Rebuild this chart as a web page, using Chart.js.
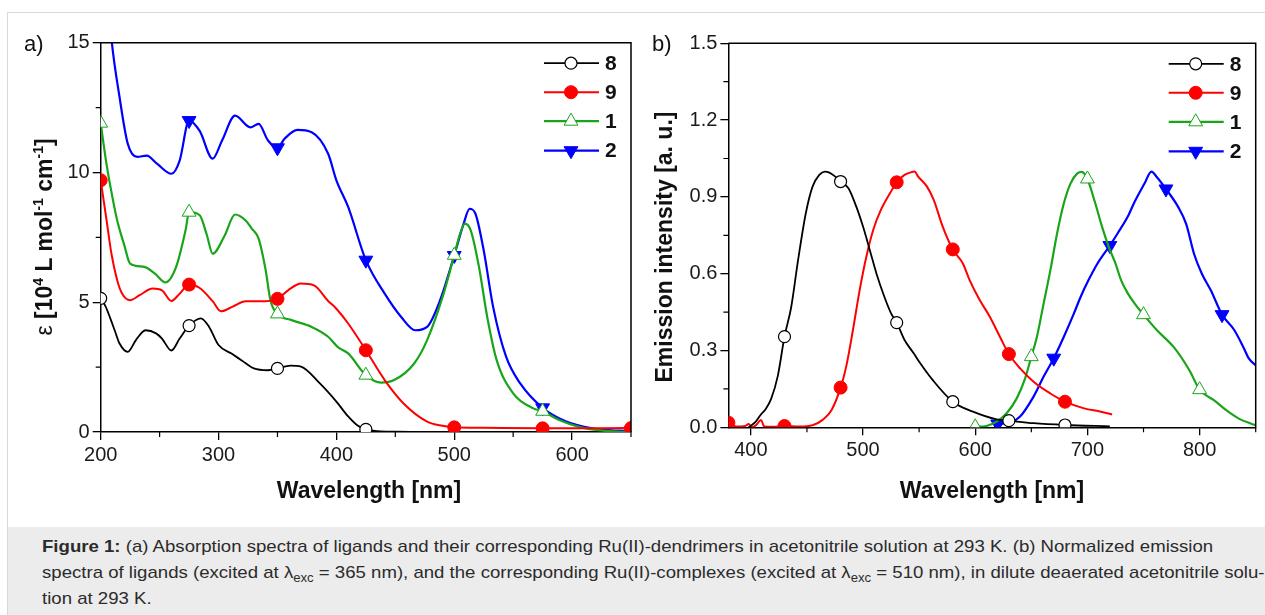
<!DOCTYPE html>
<html>
<head>
<meta charset="utf-8">
<script src="https://cdn.jsdelivr.net/npm/chart.js@4.4.0/dist/chart.umd.min.js"></script>
<style>
  body { margin: 0; background: #fff; font-family: "Liberation Sans", Arial, sans-serif; }
  #page { position: relative; width: 1265px; height: 615px; overflow: hidden; }
  #frame { position: absolute; left: 7px; top: 12px; width: 1270px; height: 620px; border: 1px solid #d9d9d9; }
  #caption { position: absolute; left: 8px; top: 527px; width: 1265px; height: 90px; background: #ececec; }
  #capText { position: absolute; left: 42px; top: 534px; font-size: 17px; line-height: 26px; color: #2b2b2b; white-space: nowrap; transform: scaleX(1.094); transform-origin: 0 0; }
  #capText sub { font-size: 12px; line-height: 0; }
  canvas { position: absolute; top: 0; }
  .panel { position: absolute; font-size: 22px; color: #111; transform: translate(0, -50%); }
  .xtitle { position: absolute; font-weight: bold; font-size: 23px; color: #111; white-space: nowrap; transform: translate(-50%, -50%); }
  .ytitle { position: absolute; font-weight: bold; font-size: 23px; color: #111; white-space: nowrap; transform: translate(-50%, -50%) rotate(-90deg); }
  .ytitle sup { font-size: 14px; line-height: 0; }
</style>
</head>
<body>
<div id="page">
  <div id="frame"></div>
  <canvas id="absChart" width="640" height="520" style="left:0"></canvas>
  <canvas id="emiChart" width="625" height="520" style="left:640px"></canvas>

  <div class="panel" style="left:24px; top:44px">a)</div>
  <div class="panel" style="left:652px; top:44px">b)</div>
  <div class="xtitle" style="left:369px; top:490px">Wavelength [nm]</div>
  <div class="xtitle" style="left:992px; top:490px">Wavelength [nm]</div>
  <div class="ytitle" style="left:44px; top:237px"><span style="font-weight:normal">ε</span> [10<sup>4</sup> L mol<sup>-1</sup> cm<sup>-1</sup>]</div>
  <div class="ytitle" style="left:664px; top:247px">Emission intensity [a. u.]</div>

  <div id="caption"></div>
  <div id="capText"><b>Figure 1:</b> (a) Absorption spectra of ligands and their corresponding Ru(II)-dendrimers in acetonitrile solution at 293 K. (b) Normalized emission<br>spectra of ligands (excited at λ<sub>exc</sub> = 365 nm), and the corresponding Ru(II)-complexes (excited at λ<sub>exc</sub> = 510 nm), in dilute deaerated acetonitrile solu-<br>tion at 293 K.</div>
</div>

<script>
// ---- (a) absorption, epsilon in 10^4 L mol-1 cm-1 ----
const absWl8 = [200, 204, 208, 212, 216, 223, 230, 238, 247, 252, 260, 267, 275, 285, 292, 300, 311, 320, 330, 342, 350, 361, 370, 386, 400, 410, 418, 425, 435, 450, 470];
const absEps8 = [5.15, 4.85, 4.4, 3.9, 3.41, 3.09, 3.55, 3.92, 3.8, 3.6, 3.14, 3.6, 4.1, 4.38, 4.05, 3.35, 3.02, 2.75, 2.45, 2.38, 2.45, 2.56, 2.52, 1.87, 1.17, 0.6, 0.25, 0.1, 0.03, 0.01, 0];

const absWl9 = [200, 205, 209, 214, 218, 225, 233, 244, 252, 260, 267, 275, 284, 295, 302, 312, 323, 340, 350, 359, 370, 381, 393, 400, 410, 425, 441, 457, 477, 490, 500, 525, 575, 650];
const absEps9 = [9.7, 8.15, 6.9, 5.85, 5.35, 5.08, 5.27, 5.53, 5.46, 5.05, 5.33, 5.68, 5.55, 5.04, 4.65, 4.83, 5.04, 5.04, 5.13, 5.46, 5.72, 5.65, 5.05, 4.75, 4.18, 3.15, 2.0, 1.1, 0.4, 0.24, 0.18, 0.16, 0.14, 0.15];

const absWl1 = [200, 205, 211, 214, 220, 225, 237, 246, 255, 264, 272, 275, 284, 290, 295, 305, 314, 323, 328, 334, 340, 344, 350, 362, 379, 393, 401, 410, 425, 438, 449, 466, 477, 491, 500, 505, 509, 514, 521, 528, 536, 550, 567, 575, 589, 606, 626, 645, 650];
const absEps1 = [11.9, 10.3, 8.8, 8.15, 7.2, 6.49, 6.36, 6.1, 5.76, 6.36, 7.77, 8.47, 8.35, 7.6, 6.87, 7.55, 8.38, 8.15, 7.85, 7.45, 6.23, 5.08, 4.55, 4.31, 4.05, 3.67, 3.28, 3.03, 2.19, 1.9, 2.0, 2.64, 3.54, 5.33, 6.81, 7.64, 8.03, 7.77, 6.36, 4.43, 2.77, 1.49, 0.91, 0.8, 0.46, 0.2, 0.05, 0.01, 0];

const absWl2 = [205, 209, 216, 223, 231, 239, 248, 260, 267, 275, 284, 295, 303, 314, 327, 334, 342, 350, 356, 367, 379, 393, 400, 410, 425, 441, 455, 467, 477, 488, 500, 508, 513, 518, 525, 533, 544, 556, 575, 595, 617, 640, 650];
const absEps2 = [17.5, 15.2, 12.9, 11.1, 10.6, 10.65, 10.33, 9.95, 10.46, 12.0, 11.6, 10.53, 11.23, 12.19, 11.74, 11.87, 11.23, 10.95, 11.3, 11.64, 11.55, 10.72, 9.7, 8.67, 6.62, 5.33, 4.43, 3.92, 4.05, 5.08, 6.8, 8.03, 8.6, 8.41, 7.0, 4.82, 2.9, 1.87, 0.93, 0.4, 0.14, 0.05, 0.04];

const absMarks8 = [200, 275, 350, 425];
const absMarks9 = [200, 275, 350, 425, 500, 575, 650];
const absMarks1 = [200, 275, 350, 425, 500, 575];
const absMarks2 = [275, 350, 425, 500, 575, 650];

const absXTicks = [200, 300, 400, 500, 600];
const absXMinor = [250, 350, 450, 550, 650];
const absYTicks = [0, 5, 10, 15];
const absYMinor = [2.5, 7.5, 12.5];

// ---- (b) normalized emission ----
const emiWl8 = [398, 404, 409, 413, 418, 424, 430, 436, 442, 449, 455, 461, 466, 470, 475, 480, 487, 494, 500, 506, 512, 519, 525, 530, 537, 545, 551, 562, 580, 598, 619, 630, 652, 680, 720];
const emiInt8 = [0, 0.02, 0.05, 0.07, 0.11, 0.2, 0.354, 0.47, 0.65, 0.836, 0.94, 0.986, 0.999, 0.995, 0.98, 0.96, 0.934, 0.862, 0.784, 0.693, 0.6, 0.51, 0.445, 0.409, 0.341, 0.29, 0.25, 0.185, 0.1, 0.061, 0.031, 0.026, 0.016, 0.009, 0.004];

const emiWl9 = [380, 387, 395, 398, 401, 405, 409, 412, 420, 430, 443, 455, 464, 472, 480, 485, 491, 497, 503, 509, 516, 524, 530, 537, 542, 546, 549, 557, 563, 571, 580, 589, 595, 604, 613, 622, 630, 640, 652, 667, 680, 697, 712, 722];
const emiInt9 = [0.018, 0.003, 0.005, 0.013, 0.0, 0.01, 0.029, 0.003, 0.002, 0.005, 0.003, 0.008, 0.029, 0.068, 0.155, 0.237, 0.38, 0.536, 0.667, 0.77, 0.85, 0.914, 0.957, 0.986, 0.995, 0.999, 0.98, 0.94, 0.888, 0.784, 0.695, 0.64, 0.575, 0.497, 0.432, 0.354, 0.286, 0.23, 0.178, 0.132, 0.1, 0.074, 0.061, 0.05];

const emiWl1 = [600, 610, 619, 628, 637, 644, 650, 655, 661, 667, 673, 679, 685, 691, 695, 700, 707, 713, 719, 725, 730, 736, 742, 750, 762, 777, 791, 800, 813, 824, 835, 846, 850];
const emiInt1 = [0.002, 0.005, 0.022, 0.055, 0.113, 0.185, 0.276, 0.354, 0.484, 0.614, 0.758, 0.875, 0.953, 0.992, 0.998, 0.97, 0.875, 0.784, 0.705, 0.64, 0.575, 0.523, 0.484, 0.44, 0.379, 0.313, 0.222, 0.147, 0.105, 0.066, 0.034, 0.014, 0.008];

const emiWl2 = [620, 631, 640, 652, 661, 670, 679, 688, 694, 701, 709, 720, 727, 736, 742, 751, 757, 762, 770, 781, 788, 795, 802, 810, 820, 831, 839, 844, 850];
const emiInt2 = [0.013, 0.018, 0.042, 0.12, 0.198, 0.27, 0.354, 0.445, 0.51, 0.575, 0.64, 0.71, 0.758, 0.823, 0.88, 0.953, 0.999, 0.977, 0.931, 0.86, 0.795, 0.678, 0.6, 0.535, 0.44, 0.379, 0.313, 0.268, 0.242];

const emiMarks8 = [430, 480, 530, 580, 630, 680];
const emiMarks9 = [380, 430, 480, 530, 580, 630, 680];
const emiMarks1 = [600, 650, 700, 750, 800];
const emiMarks2 = [620, 670, 720, 770, 820];

const emiXTicks = [400, 500, 600, 700, 800];
const emiXMinor = [450, 550, 650, 750, 850];
const emiYTicks = [0, 0.3, 0.6, 0.9, 1.2, 1.5];
const emiYMinor = [0.15, 0.45, 0.75, 1.05, 1.35];

/* ============================
   STYLES
============================ */
const FONT = '"Liberation Sans", Arial, sans-serif';

const styles = {
  "8": { color: "#000000", width: 1.8, shape: "circle", rot: 0, fill: "#ffffff", r: 6, pbw: 1.2 },
  "9": { color: "#ff0000", width: 2, shape: "circle", rot: 0, fill: "#ff0000", r: 6.5, pbw: 1 },
  "1": { color: "#19a519", width: 2.2, shape: "triangle", rot: 0, fill: "#ffffff", r: 8, pbw: 1 },
  "2": { color: "#0000ff", width: 2.2, shape: "triangle", rot: 180, fill: "#0000ff", r: 8, pbw: 1 },
};

function makeSet(name, xs, ys, marks) {
  const st = styles[name];
  return {
    label: name,
    data: xs.map((x, i) => ({ x: x, y: ys[i] })),
    borderColor: st.color,
    borderWidth: st.width,
    pointStyle: st.shape,
    pointRotation: st.rot,
    pointBackgroundColor: st.fill,
    pointBorderColor: st.color,
    pointBorderWidth: st.pbw,
    pointRadius: (ctx) => (ctx.raw && marks.includes(ctx.raw.x) ? st.r : 0),
    cubicInterpolationMode: "monotone",
    fill: false,
    clip: 0,
  };
}

// frame (top/right), minor ticks and in-plot legend
const framePlugin = {
  id: "frame",
  afterDraw(chart, args, opts) {
    const { ctx, chartArea: a, scales } = chart;
    ctx.save();
    ctx.strokeStyle = "#000";
    ctx.lineWidth = 1.5;
    ctx.beginPath();
    ctx.moveTo(a.left, a.top);
    ctx.lineTo(a.right, a.top);
    ctx.lineTo(a.right, a.bottom);
    ctx.stroke();

    ctx.lineWidth = 1.2;
    ctx.beginPath();
    opts.minorX.forEach((v) => {
      const px = scales.x.getPixelForValue(v);
      ctx.moveTo(px, a.bottom);
      ctx.lineTo(px, a.bottom + 5);
    });
    opts.minorY.forEach((v) => {
      const py = scales.y.getPixelForValue(v);
      ctx.moveTo(a.left, py);
      ctx.lineTo(a.left - 5, py);
    });
    ctx.stroke();

    // legend
    const rows = [20.5, 49.5, 78.5, 108];
    chart.data.datasets.forEach((ds, i) => {
      const st = styles[ds.label];
      const y = a.top + rows[i];
      const x0 = a.right - 87, x1 = a.right - 32, xm = a.right - 60;
      ctx.strokeStyle = st.color;
      ctx.lineWidth = st.width;
      ctx.beginPath();
      ctx.moveTo(x0, y);
      ctx.lineTo(x1, y);
      ctx.stroke();
      ctx.fillStyle = st.fill;
      ctx.lineWidth = st.pbw;
      Chart.helpers.drawPoint(ctx, { pointStyle: st.shape, rotation: st.rot, radius: st.r, borderWidth: st.pbw }, xm, y);
      ctx.fillStyle = "#111";
      ctx.font = "bold 21px " + FONT;
      ctx.textBaseline = "middle";
      ctx.textAlign = "left";
      ctx.fillText(ds.label, a.right - 26, y + 1);
    });
    ctx.restore();
  },
};

function axisOpts(min, max, ticks, fmt, fitFn) {
  return {
    type: "linear",
    min: min,
    max: max,
    afterBuildTicks: (s) => { s.ticks = ticks.map((v) => ({ value: v })); },
    afterFit: fitFn,
    ticks: {
      font: { family: FONT, size: 20 },
      color: "#1a1a1a",
      padding: 3,
      maxRotation: 0,
      autoSkip: false,
      callback: fmt,
    },
    grid: { drawOnChartArea: false, drawTicks: true, tickLength: 8, color: "#000", lineWidth: 1.3 },
    border: { color: "#000", width: 1.5 },
  };
}

function buildChart(id, sets, cfg) {
  return new Chart(document.getElementById(id), {
    type: "line",
    data: { datasets: sets },
    options: {
      responsive: false,
      animation: false,
      events: [],
      layout: { padding: { top: cfg.top, right: cfg.right, left: 0, bottom: 0 } },
      scales: {
        x: axisOpts(cfg.xmin, cfg.xmax, cfg.xTicks, (v) => String(v), (s) => { s.height = cfg.xh; }),
        y: axisOpts(cfg.ymin, cfg.ymax, cfg.yTicks, cfg.yFmt, (s) => { s.width = cfg.yw; }),
      },
      plugins: {
        legend: { display: false },
        tooltip: { enabled: false },
        frame: { minorX: cfg.xMinor, minorY: cfg.yMinor },
      },
    },
    plugins: [framePlugin],
  });
}

buildChart("absChart", [
  makeSet("8", absWl8, absEps8, absMarks8),
  makeSet("9", absWl9, absEps9, absMarks9),
  makeSet("1", absWl1, absEps1, absMarks1),
  makeSet("2", absWl2, absEps2, absMarks2),
], {
  top: 42.7, right: 5, xh: 88, yw: 100.7,
  xmin: 200, xmax: 650, ymin: 0, ymax: 15,
  xTicks: absXTicks, yTicks: absYTicks, xMinor: absXMinor, yMinor: absYMinor,
  yFmt: (v) => String(v),
});

buildChart("emiChart", [
  makeSet("8", emiWl8, emiInt8, emiMarks8),
  makeSet("9", emiWl9, emiInt9, emiMarks9),
  makeSet("1", emiWl1, emiInt1, emiMarks1),
  makeSet("2", emiWl2, emiInt2, emiMarks2),
], {
  top: 43.3, right: 9.3, xh: 92.7, yw: 88.4,
  xmin: 380, xmax: 850, ymin: 0, ymax: 1.5,
  xTicks: emiXTicks, yTicks: emiYTicks, xMinor: emiXMinor, yMinor: emiYMinor,
  yFmt: (v) => v.toFixed(1),
});
</script>
</body>
</html>
